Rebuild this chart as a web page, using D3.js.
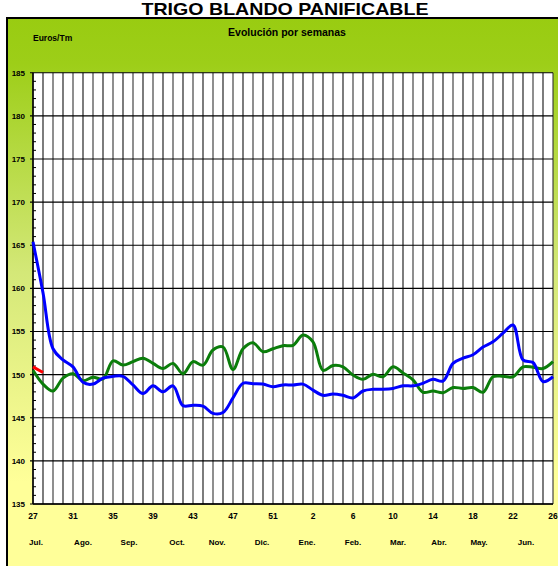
<!DOCTYPE html>
<html>
<head>
<meta charset="utf-8">
<script src="https://cdn.jsdelivr.net/npm/d3@7"></script>
<style>
  body { margin: 0; background: #ffffff; }
  text { font-family: Arial, "Liberation Sans", sans-serif; font-weight: bold; fill: #000; }
</style>
</head>
<body>
<div id="chart"></div>
<script>
// Trigo blando panificable - weekly price chart

// Data
var weeks = d3.range(27, 54).concat(d3.range(1, 27));
var weekTicks = [27, 31, 35, 39, 43, 47, 51, 2, 6, 10, 14, 18, 22, 26];
var months = ['Jul.', 'Ago.', 'Sep.', 'Oct.', 'Nov.', 'Dic.', 'Ene.', 'Feb.', 'Mar.', 'Abr.', 'May.', 'Jun.'];
var monthAt = [0.3, 5, 9.6, 14.4, 18.4, 22.9, 27.4, 32, 36.5, 40.6, 44.6, 49.3];
var yTicks = [135, 140, 145, 150, 155, 160, 165, 170, 175, 180, 185];

var blueVals = [165.4, 159.5, 153.0, 151.7, 150.9, 149.1, 148.9, 149.6, 149.8, 149.8,
  148.8, 147.8, 148.7, 148.0, 148.7, 146.4, 146.45, 146.35, 145.5, 145.6,
  147.3, 149.0, 148.95, 148.9, 148.6, 148.8, 148.8, 148.9, 148.2, 147.6,
  147.75, 147.6, 147.3, 148.1, 148.3, 148.3, 148.4, 148.7, 148.7, 149.0,
  149.45, 149.25, 151.3, 151.9, 152.3, 153.2, 153.8, 154.8, 155.75, 151.7,
  151.4, 149.2, 149.75];
var greenVals = [150.5, 148.9, 148.1, 149.6, 150.1, 149.3, 149.7, 149.5, 151.6, 151.1,
  151.5, 151.9, 151.3, 150.7, 151.3, 150.1, 151.5, 151.1, 152.85, 153.2,
  150.6, 153.0, 153.7, 152.65, 153.0, 153.35, 153.4, 154.6, 153.8, 150.5,
  151.05, 150.9, 149.95, 149.45, 150.05, 149.75, 150.9, 150.2, 149.4, 147.95,
  148.1, 147.9, 148.5, 148.4, 148.5, 147.95, 149.75, 149.8, 149.75, 150.9,
  150.85, 150.7, 151.5];
var redVals = [150.9, 150.25];


// SVG
var W = 558, H = 566;
var svg = d3.select('#chart')
  .append('svg')
  .attr('width', W)
  .attr('height', H);

// Plot area
var pLeft = 33, pRight = 553, pTop = 72.7, pBottom = 504;

var x = d3.scalePoint().domain(weeks).range([pLeft, pRight]);
var xi = d3.scaleLinear().domain([0, weeks.length - 1]).range([pLeft, pRight]);
var y = d3.scaleLinear().domain([135, 185]).range([pBottom, pTop]);


// Background gradient of the chart box
var grad = svg.append('defs').append('linearGradient')
  .attr('id', 'bg')
  .attr('x1', 0).attr('y1', 0).attr('x2', 0).attr('y2', 1);
grad.append('stop').attr('offset', '0%').attr('stop-color', '#99cc11');
grad.append('stop').attr('offset', '8%').attr('stop-color', '#9dce18');
grad.append('stop').attr('offset', '45%').attr('stop-color', '#d4e878');
grad.append('stop').attr('offset', '82%').attr('stop-color', '#ffff99');
grad.append('stop').attr('offset', '100%').attr('stop-color', '#ffff99');

svg.append('rect')
  .attr('x', 7)
  .attr('y', 18)
  .attr('width', W)
  .attr('height', H)
  .style('fill', 'url(#bg)')
  .style('stroke', '#000')
  .style('stroke-width', 2);

svg.append('rect')
  .attr('x', pLeft)
  .attr('y', pTop)
  .attr('width', pRight - pLeft)
  .attr('height', pBottom - pTop)
  .style('fill', '#ffffff');


// Title and captions
svg.append('text')
  .attr('x', 285)
  .attr('y', 15)
  .attr('text-anchor', 'middle')
  .attr('textLength', 287)
  .attr('lengthAdjust', 'spacingAndGlyphs')
  .style('font-size', '17px')
  .text('TRIGO BLANDO PANIFICABLE');

svg.append('text')
  .attr('x', 287)
  .attr('y', 36)
  .attr('text-anchor', 'middle')
  .style('font-size', '10.5px')
  .text('Evolución por semanas');

svg.append('text')
  .attr('x', 33)
  .attr('y', 41)
  .style('font-size', '8.5px')
  .text('Euros/Tm');


// Vertical grid, one line per week
svg.selectAll('.vgrid')
  .data(weeks)
  .enter()
  .append('line')
  .attr('class', 'vgrid')
  .attr('x1', function (d) { return x(d); })
  .attr('x2', function (d) { return x(d); })
  .attr('y1', pTop)
  .attr('y2', pBottom)
  .style('stroke', function (d, i) { return i % 2 ? '#111' : '#333'; })
  .style('stroke-width', 1.1);

// Horizontal grid
svg.selectAll('.hgrid')
  .data(yTicks)
  .enter()
  .append('line')
  .attr('class', 'hgrid')
  .attr('x1', pLeft - 3)
  .attr('x2', pRight)
  .attr('y1', function (d) { return y(d); })
  .attr('y2', function (d) { return y(d); })
  .style('stroke', '#000')
  .style('stroke-width', 1.1);

// Minor ticks on the value axis
svg.selectAll('.minor')
  .data(d3.range(135, 186).filter(function (d) { return d % 5 != 0; }))
  .enter()
  .append('line')
  .attr('class', 'minor')
  .attr('x1', pLeft)
  .attr('x2', pLeft + 3)
  .attr('y1', function (d) { return y(d); })
  .attr('y2', function (d) { return y(d); })
  .style('stroke', '#000')
  .style('stroke-width', 1);

// Axis lines
svg.append('line')
  .attr('x1', pLeft).attr('x2', pLeft)
  .attr('y1', pTop).attr('y2', pBottom)
  .style('stroke', '#000').style('stroke-width', 1.5);
svg.append('line')
  .attr('x1', pLeft).attr('x2', pRight)
  .attr('y1', pBottom).attr('y2', pBottom)
  .style('stroke', '#000').style('stroke-width', 1.5);


// Y labels
svg.selectAll('.ylab')
  .data(yTicks)
  .enter()
  .append('text')
  .attr('class', 'ylab')
  .attr('x', 25)
  .attr('y', function (d) { return y(d) + 3; })
  .attr('text-anchor', 'end')
  .style('font-size', '8px')
  .text(function (d) { return d; });

// Week labels
svg.selectAll('.xlab')
  .data(weekTicks)
  .enter()
  .append('text')
  .attr('class', 'xlab')
  .attr('x', function (d) { return x(d); })
  .attr('y', 519)
  .attr('text-anchor', 'middle')
  .style('font-size', '8.5px')
  .text(function (d) { return d; });

// Month labels
svg.selectAll('.mlab')
  .data(months)
  .enter()
  .append('text')
  .attr('class', 'mlab')
  .attr('x', function (d, i) { return xi(monthAt[i]); })
  .attr('y', 545)
  .attr('text-anchor', 'middle')
  .style('font-size', '8px')
  .text(function (d) { return d; });


// Series lines
var line = d3.line()
  .x(function (d, i) { return x(weeks[i]); })
  .y(function (d) { return y(d); })
  .curve(d3.curveCatmullRom.alpha(0.5));

svg.append('path')
  .attr('d', line(greenVals))
  .style('fill', 'none')
  .style('stroke', '#0a7d0a')
  .style('stroke-width', 3);

svg.append('path')
  .attr('d', line(blueVals))
  .style('fill', 'none')
  .style('stroke', '#0000ff')
  .style('stroke-width', 3);

svg.append('path')
  .attr('d', line(redVals))
  .style('fill', 'none')
  .style('stroke', '#ff0000')
  .style('stroke-width', 3);
</script>
</body>
</html>
